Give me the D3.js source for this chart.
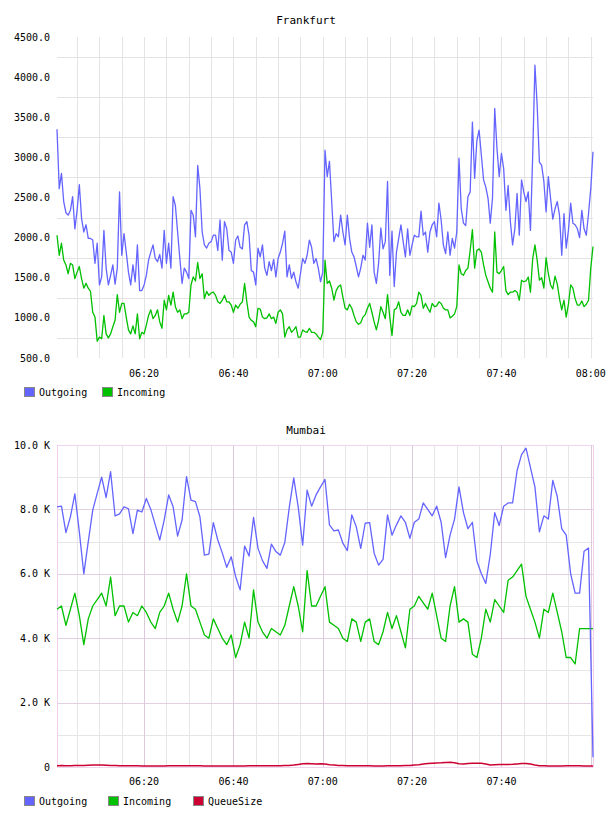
<!DOCTYPE html>
<html><head><meta charset="utf-8">
<script src="https://cdn.jsdelivr.net/npm/d3@7"></script>
<style>
body{margin:0;background:#fff;}
svg text{font-family:"DejaVu Sans Mono",monospace;font-size:10px;fill:#000;}
</style></head><body>
<svg id="c" width="608" height="816"></svg>
<script>
// ---------- Frankfurt (30 s samples from 06:00:30) ----------
const frankOut = [
3350,2610,2800,2450,2310,2280,2340,2510,2110,2340,
2660,2240,2070,2160,1990,1990,1970,1680,1930,1410,
1510,2090,1620,1410,1530,1660,1420,1620,2570,1780,
2050,1820,1570,1410,1660,1450,1910,1340,1340,1410,
1530,1720,1820,1910,1740,1700,1790,1620,2090,1680,
1930,1620,2510,2400,2070,1740,1430,1620,1570,1490,
2340,2280,2010,2900,2610,2070,1910,1870,1930,1950,
2030,2030,1840,2220,1720,2200,2110,1840,1820,1680,
1970,2020,1880,1860,2160,2200,2030,1590,1570,1410,
1870,1760,1910,1620,1530,1700,1590,1730,1510,1740,
1820,1930,2080,1510,1660,1490,1570,1450,1370,1550,
1740,1680,1780,1970,1880,1680,1740,1620,1450,1570,
3090,2760,2950,2450,1950,2050,2010,2280,2070,1910,
2280,1990,1820,1760,1640,1510,1620,1780,1720,2180,
1880,2160,1570,1430,1680,2120,1860,1950,2700,1530,
2080,1390,1820,1990,2160,1950,1760,2110,1780,1910,
2030,2010,2010,2330,2030,2070,1820,2070,2160,2200,
2010,2430,2220,1910,1800,2070,1780,1990,1870,2070,
2990,2360,2180,2150,2510,2570,3440,2740,3210,3340,
3030,2720,2630,2490,2180,2490,3610,3110,2760,3050,
2860,2340,2650,2200,1910,2110,2550,2030,2720,2570,
2450,2570,2090,3030,4150,3650,2940,2900,2700,2320,
2760,2490,2230,2360,2450,2280,1780,2300,1870,2090,
2430,2180,2160,2110,2000,2340,2110,2030,2300,2610,
3070];
const frankIn = [
2030,1780,1930,1720,1660,1550,1680,1660,1490,1570,
1640,1490,1370,1430,1370,1330,1070,1010,710,760,
740,1030,800,750,800,890,970,1290,1070,1180,
1180,1010,850,800,900,800,1050,740,820,800,
910,1030,1100,990,1030,1100,950,870,1220,1100,
1280,1160,1320,1140,1070,1100,990,1050,1050,1070,
1410,1510,1460,1690,1490,1550,1240,1330,1280,1310,
1320,1280,1200,1180,1220,1280,1200,1200,1160,1070,
1160,1120,1170,1200,1430,1200,1010,970,950,890,
1120,1110,1010,990,1000,1050,990,1010,930,1070,
1100,1050,760,850,890,820,850,890,760,760,
850,830,820,870,820,820,800,760,730,820,
1720,1430,1460,1370,1220,1340,1390,1410,1260,1120,
1100,1170,1120,1030,950,920,940,1010,1040,1120,
1180,1070,950,850,970,1140,1070,990,1290,1010,
780,1100,1120,1200,1070,1030,1030,1100,1030,1150,
1140,1180,1320,1280,1120,1180,1120,1070,1180,1140,
1150,1200,1180,1120,1100,1100,1000,1020,1050,1140,
1660,1550,1530,1590,1620,1840,2100,1620,1840,1860,
1820,1660,1530,1450,1370,1320,2070,1570,1550,1590,
1640,1340,1290,1320,1320,1340,1320,1220,1470,1450,
1460,1510,1320,1740,1910,1720,1470,1500,1370,1750,
1550,1410,1360,1520,1420,1240,1100,1220,1010,1170,
1410,1370,1240,1160,1160,1210,1140,1170,1220,1620,
1890];
const frankTicks = [500,1000,1500,2000,2500,3000,3500,4000,4500];
const frankGrid = [750,1250,1750,2250,2750,3250,3750,4250];

// ---------- Mumbai (1 min samples from 06:00:30) ----------
const mumOut = [
8080,8100,7280,7770,8480,7300,6000,7000,7980,8500,
9000,8370,9170,7800,7860,8080,8020,7250,7980,7920,
8340,8000,7520,7050,7670,8450,8080,7170,7670,9020,
8290,8240,7770,6580,6610,7590,7050,6650,6200,6530,
5910,5500,6860,6550,7750,6790,6410,6170,6920,6690,
6580,6970,8060,8980,8080,6890,8600,8100,8450,8700,
8930,7520,7330,7360,6950,6720,7830,7460,6790,7570,
7590,6640,6270,6450,7830,7200,7520,7800,7600,7100,
7600,7700,8200,8000,7800,8100,7600,6500,7200,7700,
8700,7900,7400,7600,6400,6000,5700,6600,7900,7500,
8100,8200,8200,9200,9700,9900,9300,8700,7300,7800,
7700,8900,8400,7400,7200,6000,5400,5400,6700,6800,300];
const mumIn = [
4900,5000,4400,4900,5400,4700,3800,4600,5000,5200,
5400,5000,5900,4700,5000,5000,4500,4800,4700,5000,
4800,4500,4300,4800,5000,5400,4900,4500,5000,6000,
5000,4900,4500,4100,4000,4600,4300,4000,3800,4100,
3400,3800,4500,4000,5500,4500,4200,4000,4300,4200,
4100,4400,5000,5600,5000,4200,6100,5000,5000,5300,
5600,4500,4400,4300,4000,3900,4600,4500,3900,4500,
4600,3900,3800,4200,4800,4300,4700,4200,3700,4900,
5000,5300,5100,4900,5400,4700,4000,3900,5000,5600,
4500,4600,4500,3500,3400,4000,4900,4500,5200,5000,
4800,5800,5900,6100,6300,5300,4900,4500,4000,4900,
4800,5400,4800,4200,3400,3400,3200,4300,4300,4300,4300];
const mumQueue = [
40,45,40,40,45,50,50,55,60,60,
60,55,50,45,40,40,40,35,35,30,
30,30,30,30,30,35,35,40,40,40,
40,35,35,30,30,30,30,30,30,30,
30,30,30,35,35,35,35,40,40,40,
40,45,50,60,80,100,110,100,90,100,
90,70,60,50,45,40,40,40,40,35,
35,30,30,30,35,35,40,40,45,50,
60,70,90,110,120,125,130,140,150,130,
100,95,110,120,120,115,90,60,70,80,
80,80,85,95,105,110,90,60,40,35,
30,30,30,30,35,40,40,35,30,30,30];
const mumTicks = [0,2000,4000,6000,8000,10000];
const mumMinor = [1000,3000,5000,7000,9000];

const colors = {out:"#6464ff", inc:"#00c000", queue:"#cc0033"};

// ---------- common ----------
const svg = d3.select("#c");
const start = new Date(2000,0,1,6,0,30);
const end = new Date(2000,0,1,8,0,30);
const fStep = 30000, mStep = 60000;
const x = d3.scaleTime().domain([start,end]).range([57,593]);
const minorTimes = d3.timeMinute.every(5).range(new Date(2000,0,1,6,5), new Date(2000,0,1,8,0,1));
const labelTimes = d3.timeMinute.every(20).range(new Date(2000,0,1,6,20), new Date(2000,0,1,8,0,1));
const fmtT = d3.timeFormat("%H:%M");

function legend(g, items, y) {
  items.forEach(it => {
    g.append("rect").attr("x", it.x + 0.5).attr("y", y + 0.5).attr("width", 10).attr("height", 9)
      .attr("fill", it.c).attr("stroke", "#888").attr("stroke-width", 1);
    g.append("text").attr("x", it.x + 15).attr("y", y + 9).text(it.t);
  });
}

// ---------- Frankfurt ----------
{
  const g = svg.append("g");
  const y = d3.scaleLinear().domain([500,4500]).range([358,37]);
  g.append("text").attr("x", 306).attr("y", 24).attr("text-anchor","middle")
    .style("font-size","11px").text("Frankfurt");
  g.selectAll(".hg").data(frankGrid).enter().append("line")
    .attr("x1",57).attr("x2",593).attr("y1",d=>Math.round(y(d))+0.5).attr("y2",d=>Math.round(y(d))+0.5)
    .attr("stroke","#e2e2e2");
  g.selectAll(".vg").data(minorTimes).enter().append("line")
    .attr("x1",d=>Math.round(x(d))+0.5).attr("x2",d=>Math.round(x(d))+0.5).attr("y1",37).attr("y2",358)
    .attr("stroke","#e4e4e4");
  g.selectAll(".yl").data(frankTicks).enter().append("text")
    .attr("x",50).attr("y",d=>y(d)).attr("dy","0.35em").attr("text-anchor","end")
    .text(d=>d3.format(".1f")(d));
  g.selectAll(".xl").data(labelTimes).enter().append("text")
    .attr("x",d=>x(d)).attr("y",377).attr("text-anchor","middle").text(d=>fmtT(d));
  const line = d3.line().x((d,i)=>x(new Date(+start + i*fStep))).y(d=>y(d));
  g.append("path").datum(frankIn).attr("d",line).attr("fill","none")
    .attr("stroke",colors.inc).attr("stroke-width",1.3).attr("stroke-linejoin","round");
  g.append("path").datum(frankOut).attr("d",line).attr("fill","none")
    .attr("stroke",colors.out).attr("stroke-width",1.3).attr("stroke-linejoin","round");
  legend(g, [{x:24,c:colors.out,t:"Outgoing"},{x:102,c:colors.inc,t:"Incoming"}], 387);
}

// ---------- Mumbai ----------
{
  const g = svg.append("g");
  const y = d3.scaleLinear().domain([0,10000]).range([767,445]);
  g.append("text").attr("x", 306).attr("y", 434).attr("text-anchor","middle")
    .style("font-size","11px").text("Mumbai");
  g.selectAll(".hm").data(mumMinor).enter().append("line")
    .attr("x1",57).attr("x2",593).attr("y1",d=>Math.round(y(d))+0.5).attr("y2",d=>Math.round(y(d))+0.5)
    .attr("stroke","#e6e6e6");
  g.selectAll(".vm").data(minorTimes.filter(t=>t.getMinutes()%20!==0)).enter().append("line")
    .attr("x1",d=>Math.round(x(d))+0.5).attr("x2",d=>Math.round(x(d))+0.5).attr("y1",445).attr("y2",767)
    .attr("stroke","#e6e6e6");
  g.selectAll(".hM").data(mumTicks).enter().append("line")
    .attr("x1",57).attr("x2",593).attr("y1",d=>Math.round(y(d))+0.5).attr("y2",d=>Math.round(y(d))+0.5)
    .attr("stroke",d=>(d===0||d===10000)?"#eed6ee":"#e2d0e2");
  g.selectAll(".vM").data(labelTimes).enter().append("line")
    .attr("x1",d=>Math.round(x(d))+0.5).attr("x2",d=>Math.round(x(d))+0.5).attr("y1",445).attr("y2",767)
    .attr("stroke","#dccadc");
  [57,593].forEach(xx => g.append("line").attr("x1",xx+0.5).attr("x2",xx+0.5).attr("y1",445).attr("y2",767)
    .attr("stroke","#f0cef0"));
  g.selectAll(".yl").data(mumTicks).enter().append("text")
    .attr("x",50).attr("y",d=>y(d)).attr("dy","0.35em").attr("text-anchor","end")
    .text(d=>d===0?"0":(d/1000).toFixed(1)+" K");
  g.selectAll(".xl").data(labelTimes.filter(t=>t<end && t.getHours()<8)).enter().append("text")
    .attr("x",d=>x(d)).attr("y",785).attr("text-anchor","middle").text(d=>fmtT(d));
  const line = d3.line().x((d,i)=>x(new Date(+start + i*mStep))).y(d=>y(d));
  g.append("path").datum(mumIn).attr("d",line).attr("fill","none")
    .attr("stroke",colors.inc).attr("stroke-width",1.3).attr("stroke-linejoin","round");
  g.append("path").datum(mumOut).attr("d",line).attr("fill","none")
    .attr("stroke",colors.out).attr("stroke-width",1.3).attr("stroke-linejoin","round");
  g.append("path").datum(mumQueue).attr("d",line).attr("fill","none")
    .attr("stroke",colors.queue).attr("stroke-width",1.5).attr("stroke-linejoin","round");
  legend(g, [{x:24,c:colors.out,t:"Outgoing"},{x:108,c:colors.inc,t:"Incoming"},{x:193,c:colors.queue,t:"QueueSize"}], 796);
}
</script>
</body></html>
